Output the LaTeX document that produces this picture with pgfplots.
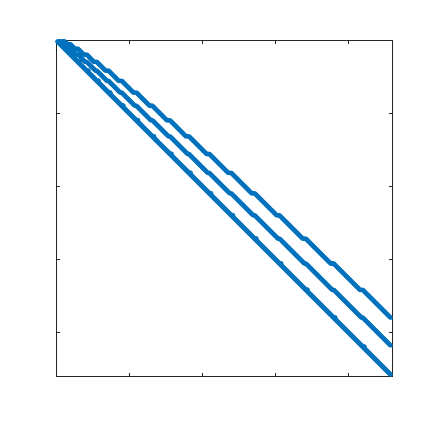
\documentclass[border=0pt]{standalone}
\usepackage{pgfplots}
\pgfplotsset{compat=1.18}
\definecolor{mblue}{HTML}{0072BD}
\definecolor{axgray}{HTML}{262626}
\begin{document}
\begin{tikzpicture}
  \begin{axis}[
    name=ax,
    width=336bp,height=336bp,scale only axis,
    xmin=0,xmax=230,ymin=0,ymax=230,
    y dir=reverse,
    xtick={0,50,100,150,200},ytick={0,50,100,150,200},
    xticklabels={},yticklabels={},
    tick align=inside,
    major tick length=3.5bp,
    axis line style={axgray,line width=0.6bp},
    tick style={axgray,line width=0.6bp},
    clip=false,
  ]
    % main diagonal
    \addplot[mblue,line width=4.6bp,line cap=round] coordinates {(1,1) (229,229)};
    % entries just above the diagonal at the layer boundaries
    \addplot[only marks,mark=*,mark size=2.3bp,mblue,mark options={draw=mblue,fill=mblue}]
      coordinates {(4,3) (7,6) (11,10) (16,15) (22,21) (29,28) (37,36) (46,45) (56,55)
      (67,66) (79,78) (92,91) (106,105) (121,120) (137,136) (154,153) (172,171) (191,190) (211,210)};
    % band to the next layer
    \addplot[mblue,line width=4.6bp,line cap=round,line join=round] coordinates {
      (2,1) (3,1) (5,3) (6,3) (9,6) (10,6) (14,10) (15,10) (20,15) (21,15)
      (27,21) (28,21) (35,28) (36,28) (44,36) (45,36) (54,45) (55,45)
      (65,55) (66,55) (77,66) (78,66) (90,78) (91,78) (104,91) (105,91)
      (119,105) (120,105) (135,120) (136,120) (152,136) (153,136)
      (170,153) (171,153) (189,171) (190,171) (209,190) (210,190) (229,209)};
    % band to the layer after next
    \addplot[mblue,line width=4.6bp,line cap=round,line join=round] coordinates {
      (4,1) (6,1) (8,3) (10,3) (13,6) (15,6) (19,10) (21,10) (26,15) (28,15)
      (34,21) (36,21) (43,28) (45,28) (53,36) (55,36) (64,45) (66,45)
      (76,55) (78,55) (89,66) (91,66) (103,78) (105,78) (118,91) (120,91)
      (134,105) (136,105) (151,120) (153,120) (169,136) (171,136)
      (188,153) (190,153) (208,171) (210,171) (229,190)};
  \end{axis}
  \path[use as bounding box] ([shift={(-56bp,-57bp)}]ax.south west) rectangle ([shift={(41bp,40bp)}]ax.north east);
\end{tikzpicture}
\end{document}
